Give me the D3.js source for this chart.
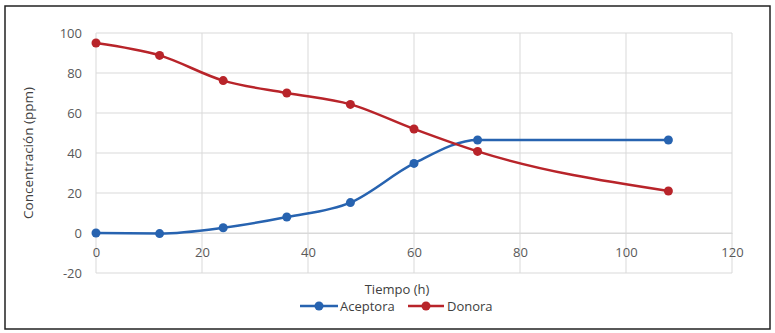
<!DOCTYPE html>
<html lang="es">
<head>
  <meta charset="UTF-8">
  <title>Concentración</title>
  <script src="https://d3js.org/d3.v7.min.js"></script>
  <style>
    body { margin: 0; background: #fff; }
    svg { font-family: "Open Sans", sans-serif; }
  </style>
</head>
<body>
<script>
  const hours = [0, 12, 24, 36, 48, 60, 72, 108];
  const aceptora = [0, -0.3, 2.6, 8, 15.2, 34.8, 46.5, 46.5];
  const donora = [95, 88.8, 76.2, 70, 64.3, 52, 40.8, 21];
  const xTicks = [0, 20, 40, 60, 80, 100, 120];
  const yTicks = [-20, 0, 20, 40, 60, 80, 100];

  function drawChart () {
    const width = 775;
    const height = 333;
    const plot = {left: 96, right: 732, top: 33, bottom: 273};

    const x = d3.scaleLinear().domain([0, 120]).range([plot.left, plot.right]);
    const y = d3.scaleLinear().domain([-20, 100]).range([plot.bottom, plot.top]);

    const svg = d3.select('body').append('svg')
      .attr('width', width)
      .attr('height', height);

    // outer frame
    svg.append('rect')
      .attr('x', 5).attr('y', 6)
      .attr('width', 765).attr('height', 323)
      .attr('fill', '#fff')
      .attr('stroke', '#222')
      .attr('stroke-width', 1.5);

    // gridlines
    svg.append('g')
      .selectAll('line')
      .data(yTicks)
      .join('line')
      .attr('x1', plot.left).attr('x2', plot.right)
      .attr('y1', d => y(d)).attr('y2', d => y(d))
      .attr('stroke', '#d9d9d9');

    svg.append('g')
      .selectAll('line')
      .data(xTicks)
      .join('line')
      .attr('x1', d => x(d)).attr('x2', d => x(d))
      .attr('y1', plot.top).attr('y2', plot.bottom)
      .attr('stroke', '#d9d9d9');

    // y axis labels
    const yAxis = g => g
      .attr('transform', `translate(${plot.left},0)`)
      .call(d3.axisLeft(y).tickValues(yTicks).tickFormat(d => String(d)).tickSize(0).tickPadding(14))
      .call(g => g.select('.domain').remove())
      .call(g => g.selectAll('text')
        .style('font-size', '13px')
        .style('font-family', '"Open Sans", sans-serif')
        .attr('fill', '#595959'));
    svg.append('g').call(yAxis);

    // x axis labels sit next to the zero line
    const xAxis = g => g
      .attr('transform', `translate(0,${y(0)})`)
      .call(d3.axisBottom(x).tickValues(xTicks).tickFormat(d => String(d)).tickSize(0).tickPadding(15))
      .call(g => g.select('.domain').attr('stroke', '#d9d9d9'))
      .call(g => g.selectAll('text')
        .style('font-size', '13px')
        .style('font-family', '"Open Sans", sans-serif')
        .attr('fill', '#595959'));
    svg.append('g').call(xAxis);

    // axis titles
    svg.append('text')
      .attr('transform', `translate(33,${(plot.top + plot.bottom) / 2}) rotate(-90)`)
      .attr('text-anchor', 'middle')
      .attr('font-size', 13.5)
      .attr('fill', '#404040')
      .text('Concentración (ppm)');

    svg.append('text')
      .attr('x', 397).attr('y', 294)
      .attr('text-anchor', 'middle')
      .attr('font-size', 13)
      .attr('fill', '#404040')
      .text('Tiempo (h)');

    const series = [
      {name: 'Aceptora', values: aceptora, color: '#2763b0'},
      {name: 'Donora', values: donora, color: '#b8242a'}
    ];

    const line = d3.line()
      .curve(d3.curveMonotoneX)
      .x(d => x(d[0]))
      .y(d => y(d[1]));

    series.forEach(s => {
      const pts = hours.map((h, i) => [h, s.values[i]]);
      svg.append('path')
        .datum(pts)
        .attr('fill', 'none')
        .attr('stroke', s.color)
        .attr('stroke-width', 2.5)
        .attr('stroke-linejoin', 'round')
        .attr('d', line);
      svg.append('g')
        .selectAll('circle')
        .data(pts)
        .join('circle')
        .attr('cx', d => x(d[0]))
        .attr('cy', d => y(d[1]))
        .attr('r', 4.5)
        .attr('fill', s.color);
    });

    // legend
    const legendItems = [
      {x: 300, w: 38, tx: 340},
      {x: 408, w: 36, tx: 447}
    ];
    series.forEach((s, i) => {
      const li = legendItems[i];
      const g = svg.append('g');
      g.append('line')
        .attr('x1', li.x).attr('x2', li.x + li.w)
        .attr('y1', 306).attr('y2', 306)
        .attr('stroke', s.color)
        .attr('stroke-width', 2.5);
      g.append('circle')
        .attr('cx', li.x + li.w / 2).attr('cy', 306)
        .attr('r', 4.5)
        .attr('fill', s.color);
      g.append('text')
        .attr('x', li.tx).attr('y', 311)
        .attr('font-size', 13)
        .attr('fill', '#404040')
        .text(s.name);
    });
  }

  drawChart();
</script>
</body>
</html>
